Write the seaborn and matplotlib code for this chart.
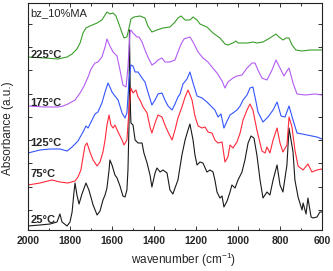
import matplotlib
matplotlib.use("Agg")
import matplotlib.pyplot as plt
from matplotlib.ticker import MultipleLocator
import seaborn as sns
import pandas as pd
import numpy as np

# FTIR spectra of bz_10%MA, stacked (a.u.)
labels = ['25°C', '75°C', '125°C', '175°C', '225°C']
colors = ['#1a1a1a', '#ff2a3a', '#3355ff', '#b35cf2', '#3a9e2a']

wn_225 = [2000, 1919, 1857, 1814, 1790, 1767, 1752, 1738, 1724, 1705, 1671, 1648, 1633, 1624, 1610,
          1595, 1581, 1567, 1552, 1543, 1529, 1519, 1510, 1495, 1467, 1443, 1429, 1410, 1386, 1357,
          1324, 1300, 1286, 1271, 1252, 1229, 1214, 1195, 1181, 1148, 1119, 1086, 1062, 1048, 1024,
          1010, 1000, 976, 952, 929, 910, 881, 848, 819, 805, 786, 771, 757, 743, 724, 695, 657, 600]
ab_225 = [173, 172, 171, 173, 176, 181, 187, 197, 202, 204, 207, 210, 215, 218, 216,
          217, 214, 206, 197, 192, 193, 202, 211, 213, 214, 212, 204, 198, 200, 202,
          203, 208, 212, 214, 210, 210, 213, 210, 206, 203, 197, 192, 186, 185, 187,
          189, 187, 187, 187, 188, 187, 188, 192, 196, 193, 190, 192, 192, 185, 180, 179, 180, 180]

wn_175 = [2000, 1919, 1857, 1833, 1810, 1776, 1752, 1733, 1714, 1700, 1681, 1667, 1648, 1633, 1624,
          1610, 1595, 1576, 1562, 1548, 1533, 1524, 1514, 1510, 1500, 1481, 1471, 1457, 1443, 1429,
          1410, 1395, 1381, 1362, 1348, 1324, 1300, 1286, 1271, 1257, 1243, 1229, 1214, 1190, 1167,
          1143, 1124, 1100, 1076, 1062, 1048, 1024, 1005, 981, 957, 933, 919, 905, 886, 862,
          838, 819, 805, 781, 767, 757, 738, 719, 681, 633, 600]
ab_175 = [124, 123, 123, 124, 126, 130, 137, 144, 153, 161, 167, 168, 173, 183, 191,
          184, 178, 174, 160, 145, 143, 163, 198, 200, 197, 193, 193, 188, 180, 173,
          165, 167, 170, 172, 168, 168, 170, 178, 186, 191, 192, 193, 188, 178, 172,
          168, 163, 157, 149, 142, 148, 152, 154, 155, 162, 167, 167, 160, 152, 150,
          160, 170, 164, 154, 159, 162, 147, 136, 135, 136, 135]

wn_125 = [2000, 1943, 1895, 1848, 1814, 1790, 1762, 1738, 1724, 1714, 1695, 1681, 1667, 1648, 1633,
          1619, 1610, 1600, 1586, 1571, 1552, 1538, 1529, 1519, 1510, 1500, 1490, 1476, 1457, 1443,
          1429, 1410, 1395, 1381, 1362, 1348, 1333, 1314, 1300, 1286, 1276, 1262, 1243, 1229, 1214,
          1195, 1171, 1148, 1124, 1110, 1095, 1081, 1067, 1052, 1038, 1024, 1005, 990, 976, 957,
          943, 929, 914, 905, 881, 857, 833, 814, 795, 776, 757, 738, 719, 671, 624, 600]
ab_125 = [77, 80, 81, 81, 79, 83, 89, 98, 104, 102, 110, 116, 118, 127, 138,
          147, 143, 138, 134, 130, 117, 112, 117, 150, 165, 164, 158, 158, 152, 148,
          138, 125, 130, 136, 137, 130, 124, 120, 126, 133, 136, 146, 151, 158, 147,
          134, 132, 128, 123, 120, 113, 116, 102, 109, 115, 117, 120, 124, 130, 135,
          142, 143, 128, 118, 108, 113, 120, 128, 114, 113, 124, 110, 97, 95, 93, 91]

wn_75 = [2000, 1943, 1886, 1848, 1810, 1776, 1762, 1748, 1738, 1729, 1719, 1705, 1690, 1671, 1657,
         1643, 1633, 1624, 1614, 1605, 1595, 1586, 1571, 1552, 1543, 1529, 1519, 1510, 1500, 1486,
         1476, 1467, 1452, 1433, 1419, 1410, 1395, 1381, 1362, 1348, 1333, 1314, 1300, 1286, 1267,
         1252, 1238, 1219, 1205, 1190, 1171, 1157, 1143, 1124, 1110, 1095, 1076, 1062, 1048, 1038,
         1024, 1005, 990, 976, 957, 943, 929, 910, 886, 871, 862, 848, 833, 814, 800,
         786, 767, 757, 743, 729, 714, 690, 667, 648, 624, 600]
ab_75 = [45, 47, 50, 48, 47, 49, 53, 60, 73, 84, 87, 78, 70, 64, 68,
         78, 90, 105, 115, 105, 102, 105, 98, 90, 85, 90, 120, 142, 137, 140,
         133, 130, 123, 117, 103, 97, 107, 115, 113, 105, 98, 90, 100, 112, 123,
         133, 140, 130, 114, 104, 102, 103, 98, 97, 90, 87, 88, 68, 73, 85,
         82, 88, 97, 110, 120, 126, 120, 100, 79, 77, 83, 77, 90, 102, 87,
         78, 85, 113, 103, 80, 64, 60, 66, 58, 60, 61]

wn_25 = [2000, 1943, 1895, 1862, 1848, 1838, 1814, 1800, 1790, 1781, 1776, 1767, 1757, 1743, 1724,
         1710, 1690, 1671, 1657, 1643, 1633, 1624, 1614, 1610, 1600, 1586, 1576, 1562, 1548, 1538,
         1529, 1524, 1519, 1517, 1512, 1510, 1500, 1490, 1476, 1467, 1457, 1448, 1433, 1419, 1410,
         1395, 1386, 1371, 1357, 1338, 1324, 1310, 1300, 1286, 1267, 1252, 1238, 1229, 1214, 1205,
         1195, 1181, 1167, 1148, 1133, 1119, 1110, 1100, 1086, 1076, 1067, 1052, 1038, 1029, 1014,
         1000, 981, 967, 952, 938, 924, 910, 895, 881, 862, 848, 833, 814, 800, 786,
         767, 757, 738, 729, 714, 695, 690, 676, 667, 652, 643, 624, 610, 600]
ab_25 = [4, 5, 6, 8, 16, 8, 4, 8, 18, 38, 47, 35, 26, 36, 47,
         40, 25, 15, 19, 30, 35, 42, 60, 70, 65, 55, 52, 44, 34, 33,
         40, 60, 105, 200, 120, 107, 105, 90, 87, 87, 87, 77, 67, 55, 43,
         57, 62, 58, 60, 57, 40, 36, 42, 50, 75, 90, 100, 106, 90, 75,
         65, 68, 67, 58, 60, 58, 50, 38, 32, 34, 23, 29, 38, 45, 42,
         50, 58, 70, 87, 94, 92, 75, 50, 32, 38, 35, 50, 65, 45, 38,
         65, 102, 78, 50, 33, 20, 27, 16, 32, 13, 12, 13, 18, 18]

frames = []
for lab, wn, ab in zip(labels, [wn_25, wn_75, wn_125, wn_175, wn_225],
                       [ab_25, ab_75, ab_125, ab_175, ab_225]):
    frames.append(pd.DataFrame({'wavenumber': wn, 'absorbance': ab, 'temp': lab}))
df = pd.concat(frames, ignore_index=True)

sns.set_style("ticks")
plt.rcParams['font.family'] = ['Liberation Sans', 'DejaVu Sans']
plt.rcParams['mathtext.default'] = 'regular'

fig = plt.figure(figsize=(3.33, 2.71), dpi=100)
ax = fig.add_axes([28 / 333, 41 / 271, 294 / 333, 227 / 271])

sns.lineplot(data=df, x='wavenumber', y='absorbance', hue='temp', hue_order=labels,
             palette=colors, estimator=None, sort=False, legend=False, lw=0.8, ax=ax)

ax.set_xlim(2000, 600)
ax.set_ylim(0, 227)
ax.xaxis.set_major_locator(MultipleLocator(200))
ax.xaxis.set_minor_locator(MultipleLocator(100))
ax.set_yticks(np.arange(20, 227, 23.3))
ax.set_yticklabels([])
ax.tick_params(direction='in', which='both', top=True, right=True, width=0.7, color='#333333')
ax.tick_params(which='major', length=3)
ax.tick_params(which='minor', length=1.8)
ax.tick_params(axis='x', labelsize=7.5, pad=4)
for t in ax.get_xticklabels():
    t.set_fontweight('bold')
for s in ax.spines.values():
    s.set_linewidth(0.8)
    s.set_color('#222222')

ax.set_xlabel('wavenumber (cm$^{-1}$)', fontsize=8.5)
ax.set_ylabel('Absorbance (a.u.)', fontsize=8.5)
ax.xaxis.set_label_coords(0.53, -0.09)
ax.yaxis.set_label_coords(-0.048, 0.45)

label_y = [0.044, 0.247, 0.383, 0.559, 0.771]
for lab, yy in zip(labels, label_y):
    ax.text(0.008, yy, lab, transform=ax.transAxes, fontsize=8, fontweight='bold',
            va='center', ha='left')
ax.text(0.008, 0.956, 'bz_10%MA', transform=ax.transAxes, fontsize=8, va='center', ha='left')

fig.savefig('out.png', dpi=100)
